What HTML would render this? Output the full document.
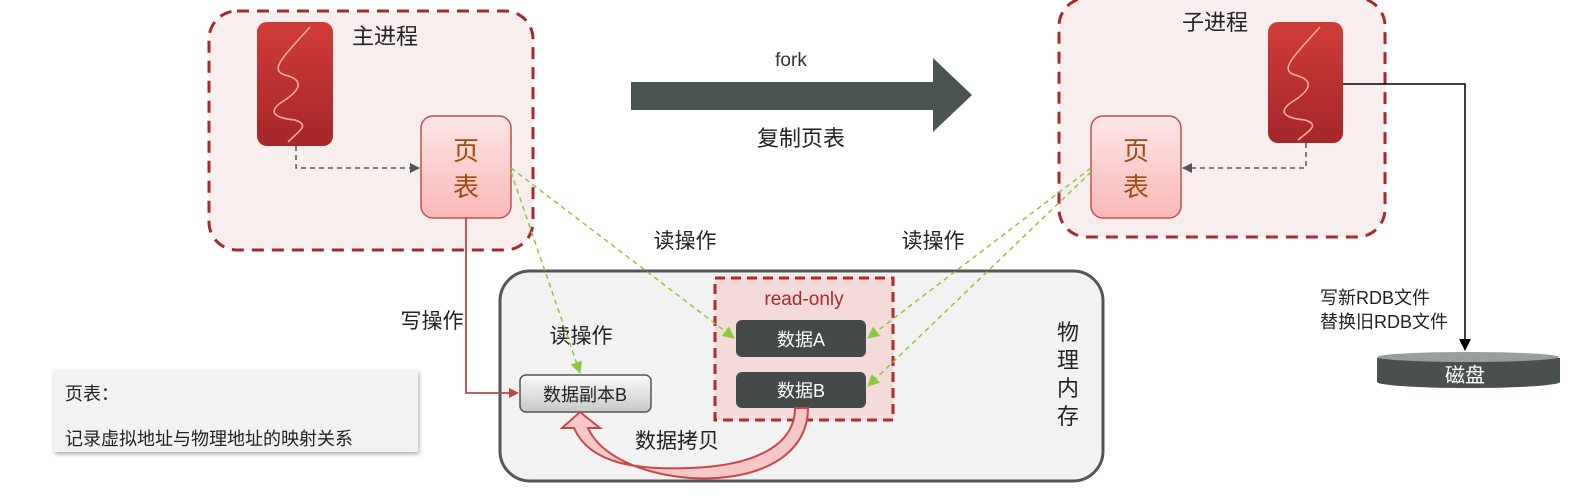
<!DOCTYPE html>
<html><head><meta charset="utf-8"><style>
html,body{margin:0;padding:0;background:#fff;}
svg{display:block;font-family:"Liberation Sans","Noto Sans CJK SC",sans-serif;}
</style></head><body>
<svg width="1595" height="497" viewBox="0 0 1595 497" xmlns="http://www.w3.org/2000/svg">
<defs>
<linearGradient id="red" x1="0" y1="0" x2="0" y2="1"><stop offset="0" stop-color="#d13c38"/><stop offset="1" stop-color="#a5262a"/></linearGradient>
<linearGradient id="pink" x1="0" y1="0" x2="0" y2="1"><stop offset="0" stop-color="#fde6e6"/><stop offset="1" stop-color="#fbb8b8"/></linearGradient>
<linearGradient id="grey" x1="0" y1="0" x2="0" y2="1"><stop offset="0" stop-color="#fafafa"/><stop offset="1" stop-color="#c8c8c8"/></linearGradient>
<marker id="ad" markerWidth="10" markerHeight="10" refX="9" refY="5" orient="auto" markerUnits="userSpaceOnUse"><path d="M0,0 L10,5 L0,10z" fill="#555"/></marker>
<marker id="ag" markerWidth="12" markerHeight="12" refX="11" refY="6" orient="auto" markerUnits="userSpaceOnUse"><path d="M0,0 L12,6 L0,12z" fill="#8cc83c"/></marker>
<marker id="ar" markerWidth="10" markerHeight="10" refX="9" refY="5" orient="auto" markerUnits="userSpaceOnUse"><path d="M0,0 L10,5 L0,10z" fill="#b84a4a"/></marker>
<marker id="ak" markerWidth="12" markerHeight="12" refX="11" refY="6" orient="auto" markerUnits="userSpaceOnUse"><path d="M0,0 L12,6 L0,12z" fill="#000"/></marker>
</defs>

<!-- main process -->
<rect x="209" y="11" width="324" height="239" rx="28" fill="#f9eeee" stroke="#a52a2a" stroke-width="3" stroke-dasharray="12,8"/>
<rect x="257" y="22" width="76" height="124" rx="10" fill="url(#red)"/>
<path d="M310,27 C280,60 270,70 285,75 C305,80 300,90 285,100 C265,112 275,118 295,120 C310,125 300,130 288,142" fill="none" stroke="#f7b49b" stroke-width="1.5"/>
<text x="352" y="44" font-size="22" fill="#222">主进程</text>
<rect x="421" y="116" width="90" height="102" rx="12" fill="url(#pink)" stroke="#c0504d" stroke-width="1.5"/>
<text x="466" y="160" font-size="26" fill="#a04a10" text-anchor="middle">页</text>
<text x="466" y="196" font-size="26" fill="#a04a10" text-anchor="middle">表</text>
<path d="M296,146 V168 H419" fill="none" stroke="#555" stroke-width="1.5" stroke-dasharray="5,4" marker-end="url(#ad)"/>

<!-- child process -->
<rect x="1059" y="-2" width="326" height="239" rx="28" fill="#f9eeee" stroke="#a52a2a" stroke-width="3" stroke-dasharray="12,8"/>
<text x="1182" y="30" font-size="22" fill="#222">子进程</text>
<rect x="1268" y="22" width="75" height="121" rx="10" fill="url(#red)"/>
<path d="M1320,27 C1290,60 1280,70 1295,75 C1315,80 1310,90 1295,100 C1275,112 1285,118 1305,120 C1320,125 1310,130 1298,140" fill="none" stroke="#f7b49b" stroke-width="1.5"/>
<rect x="1091" y="116" width="90" height="102" rx="12" fill="url(#pink)" stroke="#c0504d" stroke-width="1.5"/>
<text x="1136" y="160" font-size="26" fill="#a04a10" text-anchor="middle">页</text>
<text x="1136" y="196" font-size="26" fill="#a04a10" text-anchor="middle">表</text>
<path d="M1306,143 V168 H1183" fill="none" stroke="#555" stroke-width="1.5" stroke-dasharray="5,4" marker-end="url(#ad)"/>

<!-- fork arrow -->
<path d="M631,82 H933 V58 L972,95 L933,132 V110 H631z" fill="#4a5452"/>
<text x="791" y="66" font-size="19" fill="#333" text-anchor="middle">fork</text>
<text x="801" y="146" font-size="22" fill="#222" text-anchor="middle">复制页表</text>

<!-- memory -->
<rect x="500" y="271" width="603" height="210" rx="30" fill="#f2f2f2" stroke="#555" stroke-width="3"/>
<rect x="715" y="278" width="178" height="142" fill="#f5dada" stroke="#b22a2a" stroke-width="3" stroke-dasharray="10,6"/>
<text x="804" y="305" font-size="19" fill="#a52a2a" text-anchor="middle">read-only</text>
<rect x="736" y="320" width="130" height="37" rx="6" fill="#444a4a"/>
<text x="801" y="346" font-size="18" fill="#fff" text-anchor="middle">数据A</text>
<rect x="736" y="372" width="130" height="36" rx="6" fill="#444a4a"/>
<text x="801" y="397" font-size="18" fill="#fff" text-anchor="middle">数据B</text>
<rect x="520" y="375" width="131" height="37" rx="6" fill="url(#grey)" stroke="#555" stroke-width="1.5"/>
<text x="585" y="401" font-size="18" fill="#222" text-anchor="middle">数据副本B</text>
<g font-size="22" fill="#222" text-anchor="middle">
<text x="1068" y="340">物</text><text x="1068" y="368">理</text><text x="1068" y="396">内</text><text x="1068" y="424">存</text>
</g>
<!-- copy curved arrow -->
<path d="M795,408 H808 C808,455 760,482 690,478 C640,474 600,455 588,428 L600,428 L580,412 L562,428 L574,428 C590,465 640,470 690,468 C755,466 795,445 795,408z" fill="#f5c8c8" stroke="#c9474a" stroke-width="2"/>
<text x="677" y="448" font-size="21" fill="#222" text-anchor="middle">数据拷贝</text>

<!-- labels -->
<text x="685" y="248" font-size="21" fill="#222" text-anchor="middle">读操作</text>
<text x="933" y="248" font-size="21" fill="#222" text-anchor="middle">读操作</text>
<text x="432" y="328" font-size="21" fill="#222" text-anchor="middle">写操作</text>
<text x="581" y="343" font-size="21" fill="#222" text-anchor="middle">读操作</text>

<!-- write line -->
<path d="M466,218 V393 H518" fill="none" stroke="#b84a4a" stroke-width="1.8" marker-end="url(#ar)"/>

<!-- green dashed -->
<g fill="none" stroke="#8cc83c" stroke-width="1.5" stroke-dasharray="5,4">
<path d="M511,168 L734,338" marker-end="url(#ag)"/>
<path d="M511,172 L580,373" marker-end="url(#ag)"/>
<path d="M1091,168 L868,338" marker-end="url(#ag)"/>
<path d="M1091,172 L868,386" marker-end="url(#ag)"/>
</g>

<!-- legend -->
<rect x="54" y="370" width="364" height="82" fill="#f2f2f2" style="filter:drop-shadow(1px 2px 2px rgba(0,0,0,0.35))"/>
<text x="65" y="400" font-size="18" fill="#222">页表：</text>
<text x="65" y="445" font-size="18" fill="#222">记录虚拟地址与物理地址的映射关系</text>

<!-- disk -->
<path d="M1343,84 H1465 V350" fill="none" stroke="#000" stroke-width="1.5" marker-end="url(#ak)"/>
<text x="1320" y="304" font-size="18" fill="#222">写新RDB文件</text>
<text x="1320" y="328" font-size="18" fill="#222">替换旧RDB文件</text>
<path d="M1377,358 V382 A91,6 0 0 0 1560,382 V358z" fill="#4a5050"/>
<ellipse cx="1468" cy="357" rx="91" ry="5" fill="#9a9e9e"/>
<text x="1465" y="382" font-size="20" fill="#fff" text-anchor="middle">磁盘</text>
</svg>
</body></html>
